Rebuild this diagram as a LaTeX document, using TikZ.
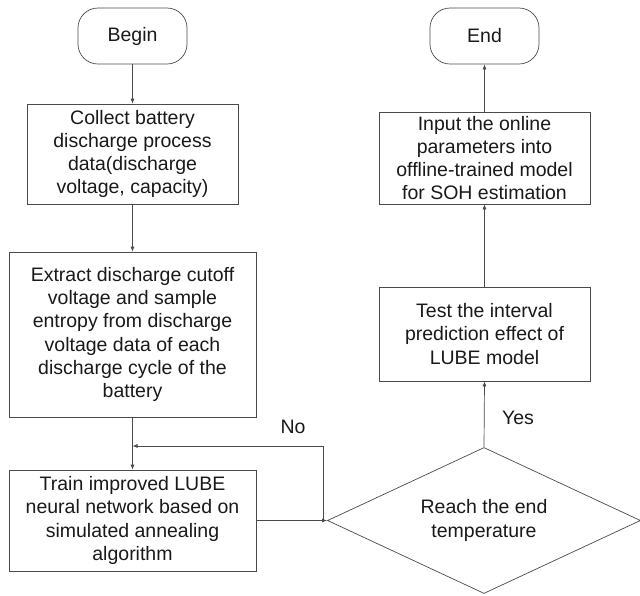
\documentclass[tikz,border=0pt]{standalone}
\usepackage{fontspec}
\setmainfont{Liberation Sans}
\usetikzlibrary{shapes.geometric,arrows.meta}
\definecolor{ln}{HTML}{4A4A4A}
\begin{document}
\begin{tikzpicture}[x=1pt,y=-1pt,
  every node/.style={font=\fontsize{19.5}{23.3}\selectfont, text=black!90},
  box/.style={draw=ln, line width=0.7pt, rectangle, inner sep=0pt, align=center},
  term/.style={draw=ln, line width=0.7pt, rectangle, rounded corners=20pt, inner sep=0pt, minimum width=109pt, minimum height=56pt},
  dec/.style={draw=ln, line width=0.7pt, diamond, aspect=2.14, inner sep=0pt, minimum width=313pt, minimum height=146pt, align=center},
  arr/.style={draw=ln, line width=0.7pt, -{Latex[length=5pt,width=4pt]}},
  lab/.style={inner sep=0pt}]
\useasboundingbox (0,0) rectangle (640,595);
\node[term] (begin) at (132.5,36) {Begin};
\node[box, minimum width=211pt, minimum height=100pt] (collect) at (132.5,154) {Collect battery\\discharge process\\data(discharge\\voltage, capacity)};
\node[box, minimum width=247pt, minimum height=165pt] (extract) at (132.5,334.5) {Extract discharge cutoff\\voltage and sample\\entropy from discharge\\voltage data of each\\discharge cycle of the\\battery};
\node[box, minimum width=247pt, minimum height=101pt] (train) at (132.5,520.5) {Train improved LUBE\\neural network based on\\simulated annealing\\algorithm};
\node[dec] (dia) at (484,520.5) {Reach the end\\temperature};
\node[box, minimum width=211pt, minimum height=94pt] (test) at (484.5,334) {Test the interval\\prediction effect of\\LUBE model};
\node[box, minimum width=211pt, minimum height=92pt] (input) at (484.5,158) {Input the online\\parameters into\\offline-trained model\\for SOH estimation};
\node[term] (end) at (484.5,36) {End};
\coordinate (j) at (323,520.5);
\coordinate (k) at (132.5,446);
\draw[arr] (begin) -- (collect);
\draw[arr] (collect) -- (extract);
\draw[arr] (extract) -- (train);
\draw[arr] (train.east) -- (dia.west);
\draw[arr] (j) |- (k);
\draw[arr] (dia.north) -- (test.south);
\draw[arr] (test) -- (input);
\draw[arr] (input) -- (end);
\node[lab] (no) at (293,427) {No};
\node[lab] (yes) at (518,418) {Yes};
\end{tikzpicture}
\end{document}
